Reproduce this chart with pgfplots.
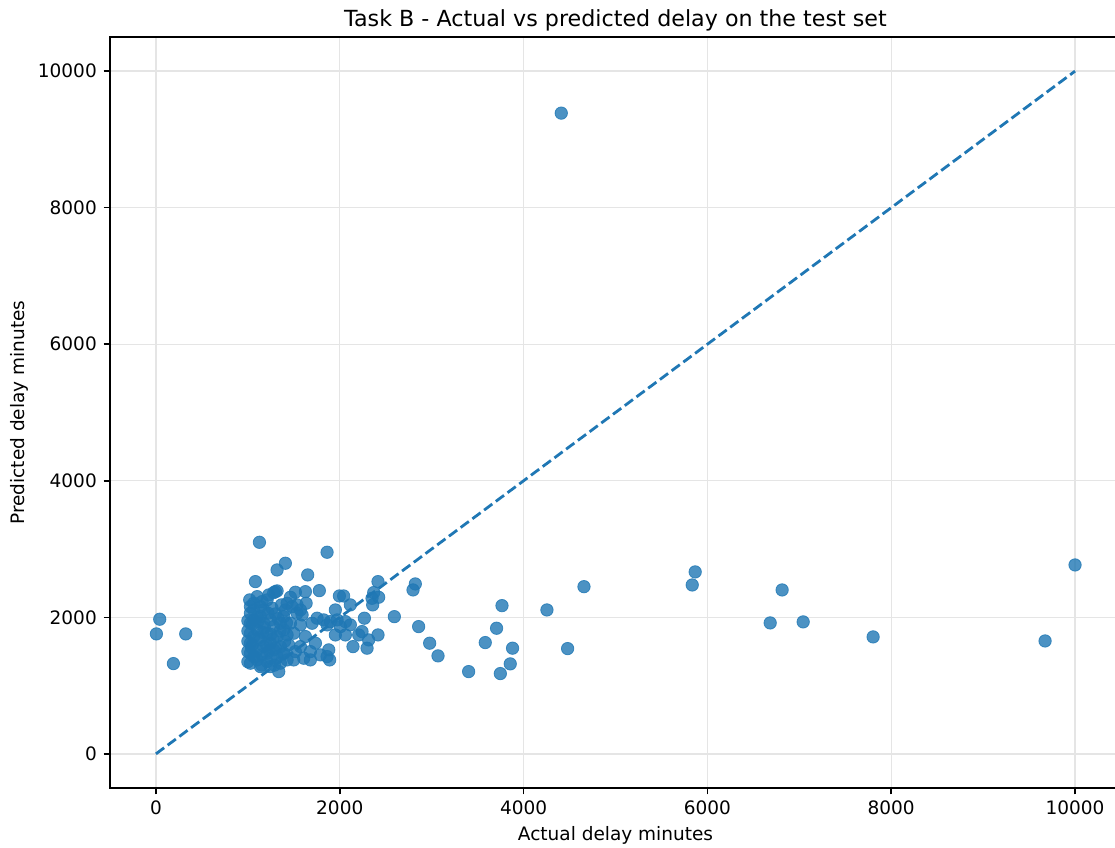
\documentclass[border=0pt]{standalone}
\usepackage{pgfplots}
\pgfplotsset{compat=1.18}
\usepackage{fontspec}
\setmainfont{DejaVu Sans}
\definecolor{tabblue}{HTML}{1F77B4}

\begin{document}
\begin{tikzpicture}
\begin{axis}[
  scale only axis,
  width=505.5pt, height=375.5pt,
  xmin=-500, xmax=10500, ymin=-500, ymax=10500,
  xtick={0,2000,4000,6000,8000,10000},
  ytick={0,2000,4000,6000,8000,10000},
  scaled ticks=false,
  /pgf/number format/.cd, assume math mode=true, set thousands separator={}, /pgfplots/.cd,
  tick align=outside,
  major tick length=3.2pt,
  tick style={black, line width=0.75pt},
  xtick pos=bottom, ytick pos=left,
  axis line style={line width=0.75pt},
  grid=major,
  major grid style={gray!20, line width=0.7pt},
  ticklabel style={font=\fontsize{9.25}{11}\selectfont},
  xticklabel style={inner sep=0pt, yshift=-3.2pt},
  yticklabel style={inner sep=0pt, xshift=-3.2pt},
  title={Task B - Actual vs predicted delay on the test set},
  title style={font=\fontsize{11.1}{13}\selectfont, at={(axis description cs:0.5,1)}, anchor=center, yshift=2.5pt},
  xlabel={Actual delay minutes},
  xlabel style={font=\fontsize{9.25}{11}\selectfont, at={(axis description cs:0.5,0)}, anchor=center, yshift=-23.5pt},
  ylabel={Predicted delay minutes},
  ylabel style={font=\fontsize{9.25}{11}\selectfont, at={(axis description cs:0,0.5)}, anchor=center, yshift=45.5pt},
]
\coordinate (O) at (rel axis cs:0,0);

% test-set predictions
\addplot[only marks, mark=*, mark size=3.1pt,
  mark options={fill=tabblue, draw=tabblue, fill opacity=0.8, draw opacity=0.8}]
coordinates {
(5,1757) (41,1972) (324,1757) (190,1322)
(1126,3099) (1862,2953) (1408,2792) (1318,2694) (1651,2621) (1082,2523)
(1778,2391) (1626,2376) (1517,2367) (1318,2387) (1281,2362) (1020,2255)
(1634,2206) (1996,2313) (2042,2313) (2115,2182) (1952,2108) (2416,2523)
(2369,2362) (2351,2279) (2423,2294) (2358,2182) (2268,1987)
(1365,2182) (1463,2294) (1481,2157) (1535,2060) (1590,2035) (1753,1987)
(1825,1962) (1898,1937) (1971,1962) (2061,1937) (2115,1889) (2007,1864)
(1862,1889) (1699,1913) (1572,1889) (1463,1913) (2242,1791) (2206,1742)
(2416,1742) (2314,1669) (2297,1548) (2144,1571) (2061,1742) (1952,1742)
(1880,1523) (1862,1425) (1890,1376) (1789,1450) (1735,1621) (1680,1498)
(1680,1376) (1608,1401) (1517,1498) (1572,1571) (1444,1596) (1336,1205)
(1245,1278) (1137,1278) (1028,1328) (1028,1474) (1028,1621) (1028,1767)
(1028,1913) (1028,2060) (1028,2157) (1137,2157) (1209,2255) (1300,2376)
(1137,2010) (1245,1962) (1354,1913) (1101,1816) (1209,1767) (1318,1718)
(1427,1742) (1137,1669) (1245,1621) (1354,1571) (1101,1523) (1209,1474)
(1318,1425) (1427,1376) (1101,1376) (1209,1352) (1354,1328) (1064,1962)
(1064,1718) (1064,1425) (1173,1913) (1173,1571) (1281,1864) (1281,1523)
(1390,1816) (1390,1474) (1499,1767) (1499,1376) (1626,1718) (1390,2010)
(1408,2108) (1427,2206) (1535,2182) (1572,2108) (1064,2108) (1064,2206)
(1101,2303) (1155,2230) (1227,2328) (1264,2133) (1173,2108)
(1000,1950) (1000,1800) (1000,1650) (1000,1500) (1000,1350) (1050,1900)
(1150,1450) (1200,1600) (1250,1750) (1300,1550) (1350,1800) (1400,1650)
(1100,2000) (1300,2050) (1150,1300) (1250,1400) (1050,1600) (1180,1850)
(1120,1700) (1230,1520) (1330,1980) (1080,1420) (1290,1300) (1420,1920)
(1040,1560) (1160,1780) (1270,1680) (1380,1460) (1110,1940) (1220,2060)
(2822,2489) (2797,2401) (2594,2010) (2858,1864) (2978,1621) (3069,1435)
(3402,1205) (3583,1630) (3765,2171) (3706,1840) (3880,1548) (3855,1318)
(3747,1176) (4254,2108) (4479,1542) (4657,2449) (4410,9385)
(5867,2665) (5835,2474) (6813,2401) (6683,1918) (7042,1933) (7803,1713)
(9674,1654) (10000,2767)
};

% reference diagonal
\addplot[tabblue, line width=1.4pt, dash pattern=on 5.1pt off 2.2pt]
coordinates {(0,0) (10000,10000)};
\end{axis}
\pgfresetboundingbox
\path (O) ++(-55pt,-29.5pt) rectangle ++(557.5pt,423.5pt);
\end{tikzpicture}
\end{document}
